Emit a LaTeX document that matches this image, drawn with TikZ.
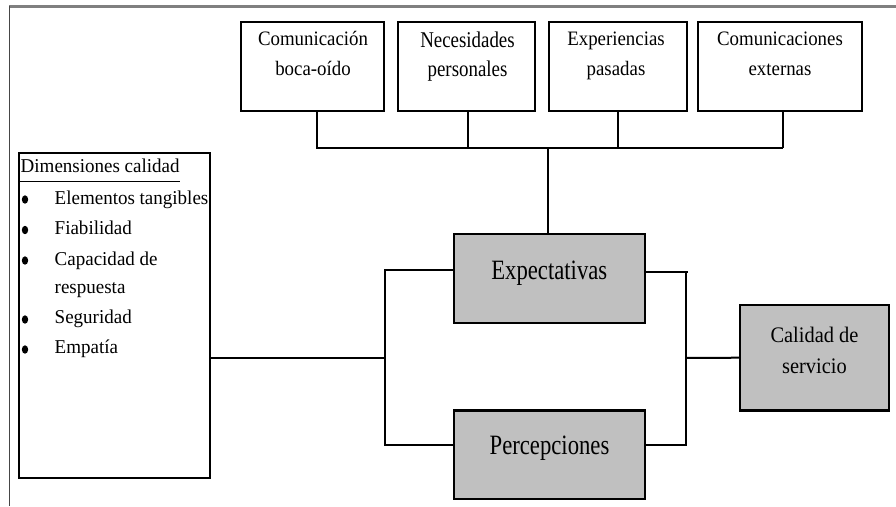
\documentclass[tikz,border=0pt]{standalone}
\usepackage{fontspec}
\usetikzlibrary{shapes.geometric}
\setmainfont{Liberation Serif}
\newfontfamily\condtop[FakeStretch=0.92]{Liberation Serif}
\newfontfamily\condnec[FakeStretch=0.84]{Liberation Serif}
\newfontfamily\condmid[FakeStretch=0.81]{Liberation Serif}
\newfontfamily\conddim[FakeStretch=0.97]{Liberation Serif}
\definecolor{boxgray}{RGB}{192,192,192}
\definecolor{frametop}{RGB}{128,128,128}
\definecolor{frameleft}{RGB}{70,70,70}
\begin{document}
\begin{tikzpicture}[x=1pt,y=-1pt,
  box/.style={draw=black, line width=2.2pt, inner sep=0pt, minimum width=#1},
  topbox/.style={box=#1, minimum height=89pt},
  midbox/.style={box=191pt, fill=boxgray, minimum height=88.5pt},
  conn/.style={draw=black, line width=2pt},
  toptxt/.style={anchor=base, inner sep=0pt, font=\condtop\fontsize{20.5}{25}\selectfont},
  nectxt/.style={anchor=base, inner sep=0pt, font=\condnec\fontsize{22.5}{25}\selectfont},
  midtxt/.style={anchor=base, inner sep=0pt, font=\condmid\fontsize{28}{30}\selectfont},
  caltxt/.style={anchor=base, inner sep=0pt, font=\condtop\fontsize{22.2}{30}\selectfont},
  dimtxt/.style={anchor=base west, inner sep=0pt, font=\conddim\fontsize{19.6}{30}\selectfont},
  bul/.style={fill=black, ellipse, inner sep=0pt, minimum width=6.4pt, minimum height=8.4pt}
]
\useasboundingbox (0,0) rectangle (896,506);
% frame
\draw[frametop, line width=2.4pt] (9,6.5) -- (896,6.5);
\draw[frameleft, line width=1.6pt] (9.5,6) -- (9.5,506);

% top boxes
\node[topbox=143pt] (b1) at (312.5,66.5) {};
\node[topbox=137pt] (b2) at (466.5,66.5) {};
\node[topbox=138pt] (b3) at (618,66.5) {};
\node[topbox=164pt] (b4) at (780,66.5) {};
\node[toptxt] (t1a) at (313,45.5) {Comunicación};
\node[toptxt] (t1b) at (313,75.5) {boca-oído};
\node[nectxt] (t2a) at (467.5,47.5) {Necesidades};
\node[nectxt] (t2b) at (467.5,76.5) {personales};
\node[toptxt] (t3a) at (616,45.5) {Experiencias};
\node[toptxt] (t3b) at (616,75.5) {pasadas};
\node[toptxt] (t4a) at (780,45.5) {Comunicaciones};
\node[toptxt] (t4b) at (780,75.5) {externas};

% middle boxes
\node[midbox] (exp) at (549.3,278.5) {};
\node[midtxt] (expt) at (549.3,279) {Expectativas};
\node[midbox] (perc) at (549.5,454.8) {};
\node[midtxt] (perct) at (549.5,454) {Percepciones};

% calidad
\node[box=149pt, fill=boxgray, minimum height=105.5pt] (cal) at (814.5,357.7) {};
\node[caltxt] (calt1) at (814.5,342) {Calidad de};
\node[caltxt] (calt2) at (814.5,373) {servicio};

% dimensiones
\node[box=190.7pt, minimum height=325pt] (dim) at (114.7,315.2) {};
\node[dimtxt] (dh) at (20.5,172.7) {Dimensiones calidad};
\draw[line width=1.3pt] (dim.west |- 0,181.7) -- (180,181.7);
\node[dimtxt] (d1) at (54.5,204) {Elementos tangibles};
\node[dimtxt] (d2) at (54.5,234.3) {Fiabilidad};
\node[dimtxt] (d3) at (54.5,265) {Capacidad de};
\node[dimtxt] (d3b) at (54.5,293.3) {respuesta};
\node[dimtxt] (d4) at (54.5,323.3) {Seguridad};
\node[dimtxt] (d5) at (54.5,353.3) {Empatía};
\node[bul] (p1) at (25,199.5) {};
\node[bul] (p2) at (25,230) {};
\node[bul] (p3) at (25,260.5) {};
\node[bul] (p4) at (25,319.5) {};
\node[bul] (p5) at (25,349.5) {};

% top connectors
\coordinate (barL) at (316,148);
\coordinate (barR) at (783,148);
\draw[conn] (barL) -- (barR);
\draw[conn] ([xshift=4.5pt]b1.south) -- ([xshift=4.5pt]b1.south |- barL);
\draw[conn] ([xshift=1pt]b2.south) -- ([xshift=1pt]b2.south |- barL);
\draw[conn] (b3.south) -- (b3.south |- barL);
\draw[conn] ([xshift=2.5pt]b4.south) -- ([xshift=2.5pt]b4.south |- barL);
\draw[conn] ([xshift=-1pt]exp.north |- barL) -- ([xshift=-1pt]exp.north);

% left bracket
\coordinate (jl) at (385.3,357.6);
\draw[conn] (dim.east |- jl) -- (jl);
\draw[conn] ([yshift=8.5pt]exp.west) -| (jl);
\draw[conn] ([yshift=10.3pt]perc.west) -| (jl);

% right bracket
\coordinate (jr) at (685.5,358);
\coordinate (jrt) at (688,271.7);
\draw[conn] ([yshift=6.8pt]exp.east) -- (jrt);
\draw[conn] (jr |- jrt) -- (jr);
\draw[conn] ([yshift=9.8pt]perc.east) -| (jr);
\draw[conn] (jr) -- (cal.west);
\end{tikzpicture}
\end{document}
